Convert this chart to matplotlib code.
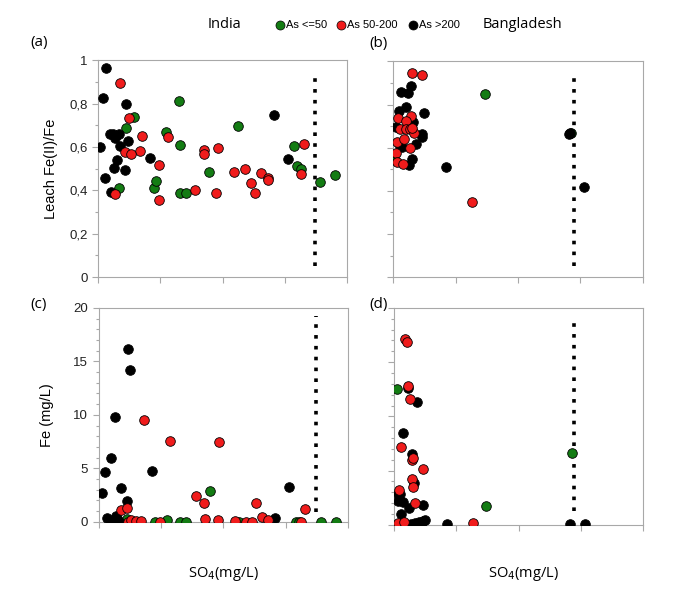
import matplotlib.pyplot as plt
from matplotlib.lines import Line2D
from matplotlib.ticker import MultipleLocator, FuncFormatter

plt.rcParams['font.family'] = ['Liberation Sans', 'DejaVu Sans']

# x: SO4 (relative position along axis, 0-100), no tick labels in original
# (a) India, Leach Fe(II)/Fe
a_green_x = [14.3, 11.1, 8.3, 22.5, 23.2, 27.3, 32.5, 32.8, 33.1, 35.2, 44.4, 56.2, 78.7, 79.9, 81.3, 89.0, 95.2]
a_green_y = [0.737, 0.686, 0.409, 0.412, 0.442, 0.669, 0.812, 0.608, 0.389, 0.389, 0.483, 0.697, 0.605, 0.512, 0.498, 0.44, 0.472]
a_red_x = [8.7, 12.4, 17.8, 16.9, 10.7, 13.4, 6.7, 24.4, 24.4, 28.1, 38.8, 42.4, 42.4, 48.1, 47.5,
           54.4, 59.0, 61.3, 63.1, 65.5, 68.3, 68.3, 81.5, 82.7]
a_red_y = [0.897, 0.734, 0.651, 0.582, 0.577, 0.566, 0.382, 0.518, 0.357, 0.645, 0.403, 0.588, 0.569, 0.595, 0.388,
           0.485, 0.498, 0.434, 0.388, 0.48, 0.457, 0.446, 0.477, 0.615]
a_black_x = [3.1, 2.0, 0.8, 4.7, 6.0, 8.4, 6.7, 8.7, 2.9, 5.1, 6.4, 7.5, 11.1, 11.9, 11.0, 20.7, 70.7, 76.3]
a_black_y = [0.965, 0.826, 0.598, 0.66, 0.66, 0.66, 0.64, 0.605, 0.458, 0.392, 0.505, 0.538, 0.798, 0.628, 0.492,
             0.551, 0.746, 0.543]

# (b) Bangladesh, Leach Fe(II)/Fe
b_green_x = [0.3, 71.2, 36.9]
b_green_y = [0.55, 0.67, 0.851]
b_red_x = [7.5, 11.7, 1.9, 7.2, 5.2, 2.9, 5.1, 6.9, 8.3, 1.7, 4.4, 6.7, 1.3, 1.6, 3.9, 7.4, 31.5]
b_red_y = [0.946, 0.938, 0.74, 0.749, 0.724, 0.687, 0.687, 0.685, 0.667, 0.628, 0.642, 0.6, 0.574, 0.532, 0.524,
           0.69, 0.349]
b_black_x = [7.0, 3.1, 5.8, 5.1, 2.3, 12.3, 1.1, 7.8, 11.4, 11.4, 2.7, 3.6, 9.1, 7.4, 6.4, 21.3, 70.6, 71.0, 76.4]
b_black_y = [0.887, 0.859, 0.856, 0.791, 0.771, 0.76, 0.698, 0.718, 0.662, 0.648, 0.609, 0.602, 0.616, 0.55, 0.522,
             0.513, 0.662, 0.668, 0.417]

# (c) India, Fe (mg/L)
c_green_x = [11.4, 22.8, 27.6, 32.8, 35.2, 44.8, 56.2, 79.0, 80.2, 89.0, 95.0]
c_green_y = [0.22, 0.0, 0.16, 0.0, 0.0, 2.88, 0.0, 0.0, 0.0, 0.0, 0.0]
c_red_x = [9.0, 11.2, 11.7, 13.0, 14.8, 17.1, 18.1, 24.5, 28.5, 39.0, 42.3, 42.5, 47.8, 48.3, 54.6,
           59.1, 61.4, 63.2, 65.5, 68.1, 81.3, 82.7]
c_red_y = [1.09, 1.25, 0.0, 0.16, 0.06, 0.06, 9.5, 0.0, 7.6, 2.38, 1.72, 0.22, 0.16, 7.47, 0.1,
           0.0, 0.0, 1.72, 0.47, 0.16, 0.0, 1.19]
c_black_x = [1.3, 2.7, 5.1, 6.6, 3.4, 5.6, 7.0, 8.3, 7.6, 9.0, 11.3, 11.6, 12.4, 21.2, 70.8, 76.3]
c_black_y = [2.66, 4.69, 5.94, 9.84, 0.38, 0.0, 0.56, 0.0, 0.15, 3.19, 1.97, 16.2, 14.2, 4.72, 0.38, 3.28]

# (d) Bangladesh, Fe (mg/L)
d_green_x = [1.1, 36.9, 71.5]
d_green_y = [12.56, 1.70, 6.64]
d_red_x = [4.4, 5.1, 5.5, 6.6, 2.7, 7.2, 7.8, 11.8, 7.1, 7.5, 2.0, 8.4, 1.7, 4.0, 31.7]
d_red_y = [17.1, 16.9, 12.8, 11.6, 7.13, 6.02, 6.17, 5.19, 4.2, 3.49, 3.18, 2.04, 0.15, 0.25, 0.15]
d_black_x = [5.5, 9.2, 3.5, 7.1, 7.9, 1.7, 2.4, 1.5, 3.7, 5.9, 11.5, 2.8, 6.7, 8.4, 10.2, 11.8, 12.6,
             21.4, 70.8, 76.7]
d_black_y = [12.6, 11.3, 8.43, 6.57, 3.86, 2.87, 2.81, 2.19, 2.07, 1.57, 1.85, 0.96, 0.09, 0.19, 0.25, 0.31, 0.4,
             0.09, 0.09, 0.09]

# dotted threshold lines (x position, y start, y end)
a_line = (87.0, 0.05, 0.95)
b_line = (72.7, 0.05, 0.95)
c_line = (87.0, 0.9, 19.2)
d_line = (72.3, 1.3, 19.3)

GREEN = '#137c13'
RED = '#f01c1c'
BLACK = '#000000'
SPINE = '#a8a8a8'

fig = plt.figure(figsize=(6.85, 5.91), dpi=100)
ax_a = fig.add_axes([0.143, 0.531, 0.364, 0.367])
ax_b = fig.add_axes([0.574, 0.531, 0.364, 0.365])
ax_c = fig.add_axes([0.144, 0.117, 0.364, 0.362])
ax_d = fig.add_axes([0.575, 0.112, 0.364, 0.367])

comma = FuncFormatter(lambda v, p: f"{v:g}".replace('.', ','))


def scatter_panel(ax, gx, gy, rx, ry, kx, ky, line):
    lx, y0, y1 = line
    ax.plot([lx, lx], [y0, y1], color='black', lw=2.6, ls=(0, (1.0, 2.0)), zorder=1)
    ax.scatter(gx, gy, s=48, c=GREEN, edgecolors='black', linewidths=0.6, zorder=3)
    ax.scatter(kx, ky, s=48, c=BLACK, edgecolors='black', linewidths=0.6, zorder=4)
    ax.scatter(rx, ry, s=48, c=RED, edgecolors='black', linewidths=0.6, zorder=5)
    ax.set_xlim(0, 100)
    ax.xaxis.set_major_locator(MultipleLocator(25))
    ax.set_xticklabels([])
    for sp in ax.spines.values():
        sp.set_color(SPINE)
        sp.set_linewidth(0.8)
        sp.set_zorder(0)
    ax.tick_params(which='both', direction='out', color=SPINE, labelsize=9.5, width=0.8,
                   labelcolor='#222222')
    ax.tick_params(which='major', length=4)
    ax.tick_params(which='minor', length=2.5)


scatter_panel(ax_a, a_green_x, a_green_y, a_red_x, a_red_y, a_black_x, a_black_y, a_line)
scatter_panel(ax_b, b_green_x, b_green_y, b_red_x, b_red_y, b_black_x, b_black_y, b_line)
scatter_panel(ax_c, c_green_x, c_green_y, c_red_x, c_red_y, c_black_x, c_black_y, c_line)
scatter_panel(ax_d, d_green_x, d_green_y, d_red_x, d_red_y, d_black_x, d_black_y, d_line)

for ax in (ax_a, ax_b):
    ax.set_ylim(0, 1)
    ax.yaxis.set_major_locator(MultipleLocator(0.2))
    ax.yaxis.set_minor_locator(MultipleLocator(0.1))
for ax in (ax_c, ax_d):
    ax.set_ylim(0, 20)
    ax.yaxis.set_major_locator(MultipleLocator(5))
    ax.yaxis.set_minor_locator(MultipleLocator(1))

ax_a.yaxis.set_major_formatter(comma)
ax_c.yaxis.set_major_formatter(comma)
ax_b.set_yticklabels([])
ax_d.set_yticklabels([])

ax_a.set_ylabel("Leach Fe(II)/Fe", fontsize=10.5, labelpad=8)
ax_c.set_ylabel("Fe (mg/L)", fontsize=10.5, labelpad=14)

lab_font = ['Open Sans', 'DejaVu Sans']
fig.text(0.057, 0.928, "(a)", fontsize=11, family=lab_font, ha='center', va='center')
fig.text(0.552, 0.926, "(b)", fontsize=11, family=lab_font, ha='center', va='center')
fig.text(0.057, 0.484, "(c)", fontsize=11, family=lab_font, ha='center', va='center')
fig.text(0.552, 0.484, "(d)", fontsize=11, family=lab_font, ha='center', va='center')

fig.text(0.327, 0.029, "SO$_4$(mg/L)", fontsize=10.5, family=lab_font, ha='center', va='center')
fig.text(0.764, 0.029, "SO$_4$(mg/L)", fontsize=10.5, family=lab_font, ha='center', va='center')

# legend row at top
fig.text(0.328, 0.958, "India", fontsize=10.5, family=lab_font, ha='center', va='center')
fig.text(0.762, 0.958, "Bangladesh", fontsize=10.5, family=lab_font, ha='center', va='center')
leg_items = [(0.409, GREEN, "As <=50"), (0.498, RED, "As 50-200"), (0.603, BLACK, "As >200")]
for lx, col, txt in leg_items:
    fig.add_artist(Line2D([lx], [0.957], marker='o', ms=6.5, color=col, mec='black', mew=0.5,
                          ls='none', transform=fig.transFigure))
    fig.text(lx + 0.009, 0.958, txt, fontsize=8, ha='left', va='center')

plt.savefig("out.png", dpi=100)
plt.close()
